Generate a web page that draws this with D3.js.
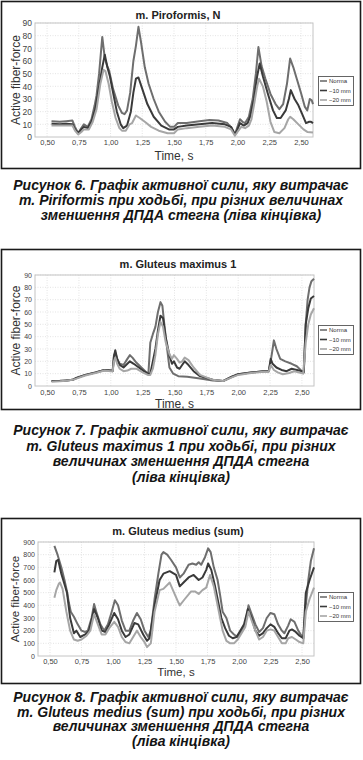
<!DOCTYPE html>
<html><head><meta charset="utf-8">
<script src="https://cdn.jsdelivr.net/npm/d3@7"></script>
<style>
html,body{margin:0;padding:0;background:#fff;}
svg{display:block;}
</style>
</head><body>
<svg id="c" width="363" height="760"></svg>
<script>
// ---------- DATA ----------
const seriesNames = ["Norma", "\u221210 mm", "\u221220 mm"];
const xTickValues = [0.5, 0.75, 1.0, 1.25, 1.5, 1.75, 2.0, 2.25, 2.5];
const yTicksSmall = [0,10,20,30,40,50,60,70,80,90];
const yTicksLarge = [0,100,200,300,400,500,600,700,800,900];

// Figure 6: m. Piroformis, N   ([time s, force])
const piriNorma = [[0.535,12.5],[0.60,12],[0.65,12.5],[0.70,13],[0.72,8],[0.745,3],[0.77,7],[0.79,10],[0.82,8],[0.85,14],[0.875,25],[0.89,33],[0.91,50],[0.935,79],[0.955,62],[0.975,56],[0.99,52],[1.02,38],[1.06,25],[1.09,19],[1.11,18],[1.13,21],[1.155,35],[1.18,60],[1.20,72],[1.22,87],[1.24,75],[1.27,55],[1.30,42],[1.34,30],[1.38,20],[1.43,12],[1.47,8],[1.50,8],[1.53,11],[1.60,11],[1.70,12.5],[1.78,13.5],[1.85,13],[1.92,11],[1.955,7],[1.98,2],[2.00,8],[2.02,14],[2.04,12],[2.06,11],[2.09,16],[2.12,30],[2.145,50],[2.165,71],[2.19,56],[2.22,46],[2.26,34],[2.30,26],[2.33,22],[2.36,26],[2.39,42],[2.415,62],[2.44,55],[2.47,45],[2.50,35],[2.53,24],[2.55,21],[2.57,30],[2.585,29],[2.595,26]];
const piriMinus10 = [[0.535,10.5],[0.60,10],[0.65,10.5],[0.70,10],[0.72,6],[0.745,3],[0.77,6],[0.79,8],[0.82,7],[0.85,12],[0.88,22],[0.91,40],[0.935,55],[0.955,65],[0.975,55],[0.995,48],[1.02,35],[1.05,20],[1.08,10],[1.10,7],[1.13,9],[1.16,20],[1.18,35],[1.20,46],[1.22,47],[1.25,38],[1.29,26],[1.34,16],[1.40,9],[1.46,6],[1.50,6],[1.53,8],[1.60,9],[1.70,10],[1.80,11],[1.90,10],[1.95,8],[1.98,2],[2.00,6],[2.02,11],[2.05,9],[2.08,11],[2.10,16],[2.13,30],[2.155,48],[2.175,58],[2.20,48],[2.24,34],[2.28,21],[2.31,15],[2.34,15],[2.38,21],[2.405,30],[2.42,37],[2.45,30],[2.48,25],[2.51,18],[2.54,11],[2.565,12],[2.58,12],[2.595,11]];
const piriMinus20 = [[0.535,9],[0.60,9],[0.70,9],[0.72,5],[0.745,2],[0.77,4],[0.79,6],[0.83,6],[0.86,12],[0.89,22],[0.92,42],[0.945,53],[0.96,52],[0.985,42],[1.01,28],[1.04,15],[1.07,7],[1.09,5],[1.12,5],[1.15,10],[1.17,11],[1.20,17],[1.23,15],[1.27,12],[1.32,8],[1.38,5],[1.45,3],[1.50,3],[1.53,6],[1.60,7],[1.70,8],[1.80,9],[1.90,8],[1.95,6],[1.98,1],[2.00,4],[2.03,8],[2.06,7],[2.09,9],[2.11,14],[2.135,28],[2.155,40],[2.17,46],[2.20,40],[2.23,28],[2.26,12],[2.29,4],[2.33,3],[2.37,7],[2.40,14],[2.415,16],[2.44,14],[2.48,10],[2.52,6],[2.55,4],[2.595,3.5]];

// Figure 7: m. Gluteus maximus 1
const gmaxNorma = [[0.535,4],[0.60,4.2],[0.65,4.5],[0.70,5],[0.73,6.5],[0.80,9],[0.88,11],[0.95,13],[1.00,12.5],[1.015,13],[1.025,25],[1.035,27],[1.05,22],[1.07,18],[1.10,17],[1.13,22],[1.15,25],[1.17,23],[1.20,19],[1.24,15],[1.28,11],[1.295,10],[1.31,35],[1.33,42],[1.35,48],[1.37,60],[1.39,68],[1.405,65],[1.42,50],[1.44,32],[1.46,15],[1.49,10],[1.53,8],[1.60,7.5],[1.70,6],[1.80,4.5],[1.88,4],[1.95,7.5],[2.00,9.5],[2.10,11],[2.20,12],[2.24,12],[2.255,20],[2.27,30],[2.28,37],[2.30,30],[2.33,22],[2.37,20],[2.42,18],[2.46,16],[2.50,12],[2.515,12],[2.53,50],[2.545,70],[2.56,80],[2.575,85],[2.595,87]];
const gmaxMinus10 = [[0.535,4],[0.60,4],[0.65,4.5],[0.70,5],[0.73,6.5],[0.80,9],[0.88,11],[0.95,13],[1.00,12.5],[1.015,12],[1.025,24],[1.035,29],[1.05,22],[1.07,17],[1.10,15],[1.13,18],[1.15,20],[1.18,18],[1.22,15],[1.26,12],[1.29,10],[1.31,10],[1.33,20],[1.35,30],[1.37,45],[1.39,57],[1.41,55],[1.43,40],[1.46,25],[1.48,18],[1.495,20],[1.52,15],[1.54,14],[1.56,17],[1.58,20],[1.61,17],[1.65,12],[1.70,8],[1.80,5],[1.88,4],[1.95,7.5],[2.00,9.5],[2.10,11],[2.20,12],[2.24,12],[2.255,22],[2.27,18],[2.30,15],[2.34,13],[2.38,12],[2.42,14],[2.46,13],[2.50,12],[2.515,11],[2.53,50],[2.55,63],[2.57,71],[2.595,73]];
const gmaxMinus20 = [[0.535,3.5],[0.60,3.8],[0.65,4.2],[0.70,5],[0.73,6],[0.80,8.5],[0.88,10.5],[0.95,12.5],[1.00,12],[1.015,12],[1.025,20],[1.035,23],[1.05,18],[1.07,14],[1.10,12],[1.13,12.5],[1.16,14],[1.20,14],[1.25,11],[1.29,9],[1.31,9],[1.33,14],[1.35,25],[1.37,42],[1.39,52],[1.41,48],[1.43,36],[1.46,26],[1.48,22],[1.495,25],[1.52,22],[1.54,19],[1.56,20],[1.58,23],[1.61,21],[1.65,15],[1.70,9],[1.80,5],[1.88,4],[1.95,7],[2.00,9],[2.10,10.5],[2.20,11.5],[2.24,11.5],[2.255,17],[2.28,13],[2.31,11],[2.35,9.5],[2.40,10.5],[2.44,12],[2.48,11],[2.51,10],[2.53,35],[2.55,50],[2.57,58],[2.595,63]];

// Figure 8: m. Gluteus medius (sum)
const gmedNorma = [[0.535,870],[0.56,800],[0.59,700],[0.615,600],[0.635,510],[0.65,420],[0.665,350],[0.69,310],[0.72,250],[0.75,200],[0.78,190],[0.80,200],[0.83,300],[0.85,410],[0.87,340],[0.90,250],[0.93,200],[0.96,250],[0.99,350],[1.015,440],[1.04,400],[1.07,280],[1.10,200],[1.13,200],[1.16,280],[1.19,340],[1.22,290],[1.25,200],[1.28,150],[1.30,200],[1.33,450],[1.36,650],[1.385,800],[1.40,820],[1.43,800],[1.46,760],[1.50,700],[1.53,620],[1.56,650],[1.60,720],[1.63,730],[1.66,720],[1.68,740],[1.70,720],[1.73,780],[1.755,850],[1.775,820],[1.80,700],[1.83,600],[1.85,480],[1.87,350],[1.90,300],[1.93,200],[1.96,170],[1.99,150],[2.02,200],[2.05,250],[2.075,400],[2.10,330],[2.13,250],[2.16,190],[2.19,220],[2.22,300],[2.25,340],[2.28,330],[2.31,250],[2.34,200],[2.36,180],[2.39,240],[2.41,290],[2.44,270],[2.47,200],[2.49,170],[2.51,140],[2.53,400],[2.55,600],[2.57,750],[2.595,850]];
const gmedMinus10 = [[0.535,660],[0.55,750],[0.565,760],[0.59,650],[0.62,550],[0.635,500],[0.66,300],[0.69,180],[0.71,200],[0.74,150],[0.78,170],[0.81,200],[0.85,370],[0.88,300],[0.91,200],[0.94,190],[0.97,250],[1.01,340],[1.04,290],[1.07,200],[1.10,150],[1.13,170],[1.17,260],[1.20,250],[1.24,170],[1.27,120],[1.29,140],[1.33,400],[1.37,600],[1.40,650],[1.45,670],[1.50,640],[1.53,550],[1.56,580],[1.60,620],[1.64,640],[1.68,600],[1.71,620],[1.74,680],[1.755,730],[1.78,680],[1.81,550],[1.83,450],[1.86,300],[1.89,220],[1.92,160],[1.95,140],[1.98,150],[2.01,200],[2.04,250],[2.07,370],[2.10,300],[2.13,200],[2.16,160],[2.19,180],[2.22,220],[2.25,250],[2.28,230],[2.31,180],[2.34,140],[2.37,140],[2.40,200],[2.42,210],[2.45,190],[2.48,160],[2.51,140],[2.53,500],[2.56,600],[2.595,700]];
const gmedMinus20 = [[0.535,460],[0.55,520],[0.57,570],[0.58,580],[0.60,530],[0.63,350],[0.66,200],[0.69,130],[0.72,120],[0.75,130],[0.79,160],[0.82,200],[0.85,330],[0.88,250],[0.91,170],[0.94,170],[0.97,220],[1.01,270],[1.04,230],[1.07,150],[1.10,110],[1.13,100],[1.16,150],[1.19,200],[1.22,150],[1.25,110],[1.27,70],[1.30,100],[1.33,350],[1.37,520],[1.40,530],[1.45,580],[1.48,510],[1.52,420],[1.53,400],[1.57,450],[1.62,510],[1.65,510],[1.68,490],[1.71,520],[1.74,540],[1.77,640],[1.80,550],[1.83,400],[1.87,200],[1.90,120],[1.93,100],[1.96,100],[1.99,130],[2.02,180],[2.05,230],[2.075,350],[2.10,280],[2.13,200],[2.16,130],[2.19,150],[2.22,200],[2.25,210],[2.28,200],[2.31,150],[2.34,100],[2.37,100],[2.39,140],[2.42,150],[2.45,130],[2.48,110],[2.51,100],[2.53,350],[2.56,450],[2.595,540]];

const captions = [
  ["\u0420\u0438\u0441\u0443\u043d\u043e\u043a 6. \u0413\u0440\u0430\u0444\u0456\u043a \u0430\u043a\u0442\u0438\u0432\u043d\u043e\u0457 \u0441\u0438\u043b\u0438, \u044f\u043a\u0443 \u0432\u0438\u0442\u0440\u0430\u0447\u0430\u0454",
   "m. Piriformis \u043f\u0440\u0438 \u0445\u043e\u0434\u044c\u0431\u0456, \u043f\u0440\u0438 \u0440\u0456\u0437\u043d\u0438\u0445 \u0432\u0435\u043b\u0438\u0447\u0438\u043d\u0430\u0445",
   "\u0437\u043c\u0435\u043d\u0448\u0435\u043d\u043d\u044f \u0414\u041f\u0414\u0410 \u0441\u0442\u0435\u0433\u043d\u0430 (\u043b\u0456\u0432\u0430 \u043a\u0456\u043d\u0446\u0456\u0432\u043a\u0430)"],
  ["\u0420\u0438\u0441\u0443\u043d\u043e\u043a 7. \u0413\u0440\u0430\u0444\u0456\u043a \u0430\u043a\u0442\u0438\u0432\u043d\u043e\u0457 \u0441\u0438\u043b\u0438, \u044f\u043a\u0443 \u0432\u0438\u0442\u0440\u0430\u0447\u0430\u0454",
   "m. Gluteus maximus 1 \u043f\u0440\u0438 \u0445\u043e\u0434\u044c\u0431\u0456, \u043f\u0440\u0438 \u0440\u0456\u0437\u043d\u0438\u0445",
   "\u0432\u0435\u043b\u0438\u0447\u0438\u043d\u0430\u0445 \u0437\u043c\u0435\u043d\u0448\u0435\u043d\u043d\u044f \u0414\u041f\u0414\u0410 \u0441\u0442\u0435\u0433\u043d\u0430",
   "(\u043b\u0456\u0432\u0430 \u043a\u0456\u043d\u0446\u0456\u0432\u043a\u0430)"],
  ["\u0420\u0438\u0441\u0443\u043d\u043e\u043a 8. \u0413\u0440\u0430\u0444\u0456\u043a \u0430\u043a\u0442\u0438\u0432\u043d\u043e\u0457 \u0441\u0438\u043b\u0438, \u044f\u043a\u0443 \u0432\u0438\u0442\u0440\u0430\u0447\u0430\u0454",
   "m. Gluteus medius (sum) \u043f\u0440\u0438 \u0445\u043e\u0434\u044c\u0431\u0456, \u043f\u0440\u0438 \u0440\u0456\u0437\u043d\u0438\u0445",
   "\u0432\u0435\u043b\u0438\u0447\u0438\u043d\u0430\u0445 \u0437\u043c\u0435\u043d\u0448\u0435\u043d\u043d\u044f \u0414\u041f\u0414\u0410 \u0441\u0442\u0435\u0433\u043d\u0430",
   "(\u043b\u0456\u0432\u0430 \u043a\u0456\u043d\u0446\u0456\u0432\u043a\u0430)"]
];

// ---------- DRAW ----------
const svg = d3.select("#c");
const FONT = "'Liberation Sans', Arial, sans-serif";
const colors = ["#6e6e6e", "#3a3a3a", "#a6a6a6"];
const fmtX = d => d3.format(".2f")(d).replace(".", ",");

function drawChart(cfg) {
  const g = svg.append("g");
  // frame
  g.append("rect").attr("x", 1.5).attr("y", cfg.frameTop).attr("width", 359).attr("height", cfg.frameH)
    .attr("fill", "#fff").attr("stroke", "#1a1a1a").attr("stroke-width", 1.6);

  const x = d3.scaleLinear().domain([0.405, 2.595]).range([cfg.left, cfg.right]);
  const y = d3.scaleLinear().domain([0, cfg.yMax]).range([cfg.bottom, cfg.top]);

  // grid
  g.append("g").selectAll("line.gx").data(xTickValues).join("line")
    .attr("x1", d => x(d)).attr("x2", d => x(d)).attr("y1", cfg.top).attr("y2", cfg.bottom)
    .attr("stroke", "#d8d8d8").attr("stroke-width", 0.7).attr("stroke-dasharray", "1,1.5");
  g.append("g").selectAll("line.gy").data(cfg.yTicks.slice(1)).join("line")
    .attr("x1", cfg.left).attr("x2", cfg.right).attr("y1", d => y(d)).attr("y2", d => y(d))
    .attr("stroke", "#d8d8d8").attr("stroke-width", 0.7).attr("stroke-dasharray", "1,1.5");

  // plot border
  g.append("rect").attr("x", cfg.left).attr("y", y(cfg.yMax)).attr("width", cfg.right - cfg.left)
    .attr("height", cfg.bottom - y(cfg.yMax)).attr("fill", "none").attr("stroke", "#c4c4c4").attr("stroke-width", 1);

  // axes
  const xAxis = d3.axisBottom(x).tickValues(xTickValues).tickFormat(fmtX).tickSize(0).tickPadding(cfg.xPad);
  const xa = g.append("g").attr("transform", `translate(0,${cfg.bottom})`).call(xAxis);
  xa.select(".domain").remove();
  xa.selectAll("text").attr("font-family", FONT).attr("font-size", cfg.xFont).attr("fill", "#444");

  const yAxis = d3.axisLeft(y).tickValues(cfg.yTicks).tickSize(0).tickPadding(3);
  const ya = g.append("g").attr("transform", `translate(${cfg.left},0)`).call(yAxis);
  ya.select(".domain").remove();
  ya.selectAll("text").attr("font-family", FONT).attr("font-size", cfg.yFont).attr("fill", "#444");

  // lines
  const line = d3.line().x(d => x(d[0])).y(d => y(d[1]));
  cfg.series.forEach((s, i) => {
    g.append("path").datum(s).attr("d", line).attr("fill", "none")
      .attr("stroke", colors[i]).attr("stroke-width", 2).attr("stroke-linejoin", "round");
  });

  // title
  g.append("text").attr("x", 178).attr("y", cfg.titleY).attr("text-anchor", "middle")
    .attr("font-family", FONT).attr("font-weight", "bold").attr("font-size", 11).attr("fill", "#222").text(cfg.title);
  // axis titles
  g.append("text").attr("x", (cfg.left + cfg.right) / 2).attr("y", cfg.xTitleY).attr("text-anchor", "middle")
    .attr("font-family", FONT).attr("font-size", cfg.axFont).attr("fill", "#333").text("Time, s");
  g.append("text").attr("transform", `translate(${cfg.yTitleX},${(cfg.top + cfg.bottom) / 2}) rotate(-90)`)
    .attr("text-anchor", "middle").attr("font-family", FONT).attr("font-size", cfg.axFont).attr("fill", "#333").text("Active fiber-force");

  // legend
  const lg = g.append("g").attr("transform", `translate(318,${cfg.legendTop})`);
  lg.append("rect").attr("x", 0.5).attr("y", 0.5).attr("width", 35).attr("height", 29)
    .attr("fill", "#fff").attr("stroke", "#555").attr("stroke-width", 0.9);
  seriesNames.forEach((n, i) => {
    const yy = 5 + i * 9.5;
    lg.append("line").attr("x1", 2).attr("x2", 9).attr("y1", yy).attr("y2", yy)
      .attr("stroke", colors[i]).attr("stroke-width", 1.6);
    lg.append("text").attr("x", 11).attr("y", yy + 2).attr("font-family", FONT).attr("font-size", 6)
      .attr("fill", "#333").text(n);
  });

  // caption
  const cap = g.append("text").attr("font-family", FONT).attr("font-weight", "bold").attr("font-style", "italic")
    .attr("font-size", cfg.capFont).attr("fill", "#141414").attr("text-anchor", "middle");
  cfg.caption.forEach((t, i) => {
    cap.append("tspan").attr("x", 181).attr("y", cfg.capY + i * cfg.capStep).text(t);
  });
}

drawChart({
  frameTop: 1.5, frameH: 167, left: 35, right: 313, top: 23, bottom: 137, yMax: 90, yTicks: yTicksSmall,
  xFont: 7.5, yFont: 8.5, xPad: 3, axFont: 12, title: "m. Piroformis, N", titleY: 19, xTitleY: 159.5, yTitleX: 20,
  legendTop: 76, series: [piriNorma, piriMinus10, piriMinus20],
  caption: captions[0], capY: 190, capStep: 15, capFont: 14
});
drawChart({
  frameTop: 249.5, frameH: 160, left: 35, right: 314, top: 275, bottom: 386, yMax: 90, yTicks: yTicksSmall,
  xFont: 7.5, yFont: 7, xPad: 4, axFont: 12, title: "m. Gluteus maximus 1", titleY: 268, xTitleY: 408, yTitleX: 20,
  legendTop: 325, series: [gmaxNorma, gmaxMinus10, gmaxMinus20],
  caption: captions[1], capY: 435, capStep: 15.5, capFont: 14
});
drawChart({
  frameTop: 518.5, frameH: 165, left: 38, right: 314, top: 542, bottom: 656, yMax: 900, yTicks: yTicksLarge,
  xFont: 7.5, yFont: 7, xPad: 3, axFont: 11.5, title: "m. Gluteus medius (sum)", titleY: 535, xTitleY: 676, yTitleX: 19,
  legendTop: 592, series: [gmedNorma, gmedMinus10, gmedMinus20],
  caption: captions[2], capY: 702, capStep: 14.7, capFont: 14
});
</script>
</body></html>
